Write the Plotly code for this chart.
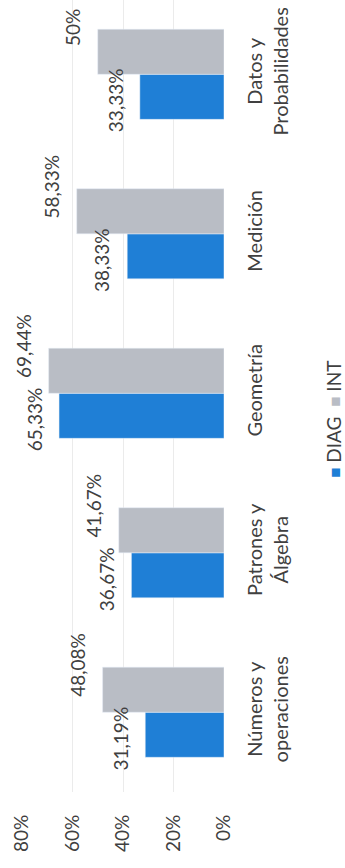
import plotly.graph_objects as go

categories = ["Números y<br>operaciones", "Patrones y<br>Álgebra", "Geometría", "Medición", "Datos y<br>Probabilidades"]
diag = [31.19, 36.67, 65.33, 38.33, 33.33]
intv = [48.08, 41.67, 69.44, 58.33, 50.0]
tick_vals = [0, 20, 40, 60, 80]
tick_text = ["0%", "20%", "40%", "60%", "80%"]

BLUE = "#1f7fd6"
GRAY = "#b9bdc5"
TXT = "#404040"
FONT = "Lato"


def fmt(v):
    s = f"{v:.2f}".replace(".", ",")
    if s.endswith(",00"):
        s = s[:-3]
    return s + "%"


idx = list(range(len(categories)))

fig = go.Figure()
fig.add_trace(go.Bar(x=diag, y=idx, orientation="h", name="DIAG", marker_color=BLUE))
fig.add_trace(go.Bar(x=intv, y=idx, orientation="h", name="INT", marker_color=GRAY))

ann = []
for i, v in enumerate(diag):
    ann.append(dict(x=v, y=i, xref="x", yref="y", text=fmt(v), showarrow=False,
                    textangle=-90, xanchor="center", yanchor="middle", xshift=-25, yshift=-26,
                    font=dict(family=FONT, size=19, color=TXT)))
for i, v in enumerate(intv):
    ann.append(dict(x=v, y=i, xref="x", yref="y", text=fmt(v), showarrow=False,
                    textangle=-90, xanchor="center", yanchor="middle", xshift=-25, yshift=47,
                    font=dict(family=FONT, size=19, color=TXT)))
# legend (rotated like the rest of the chart)
ann.append(dict(x=1.545, y=0.47, xref="paper", yref="paper", showarrow=False, textangle=-90,
                xanchor="center", yanchor="middle", borderpad=0,
                text=f'<span style="color:{BLUE};font-size:17px">■</span> DIAG  '
                     f'<span style="color:{GRAY};font-size:17px">■</span> INT',
                font=dict(family=FONT, size=19, color=TXT)))

fig.update_layout(
    width=345, height=868,
    margin=dict(l=22, r=121, t=0, b=76),
    paper_bgcolor="white", plot_bgcolor="white",
    barmode="group", bargap=0.435, bargroupgap=0,
    showlegend=False,
    font=dict(family=FONT, size=19, color=TXT),
    annotations=ann,
    xaxis=dict(range=[80, 0], tickvals=tick_vals, ticktext=tick_text, tickangle=-90,
               showgrid=True, gridcolor="#ebebeb", gridwidth=1, zeroline=False,
               showline=False, ticks="", ticklabelstandoff=18,
               tickfont=dict(family=FONT, size=19, color=TXT)),
    yaxis=dict(range=[-0.5, 4.466], tickvals=idx, ticktext=categories, tickangle=-90,
               side="right", showgrid=False, zeroline=False, showline=False, ticks="",
               ticklabelstandoff=17,
               tickfont=dict(family=FONT, size=20, color=TXT)),
)

fig.write_html("out.html", config={"displayModeBar": False},
               post_script="document.body.style.margin='0';document.body.style.padding='0';")
